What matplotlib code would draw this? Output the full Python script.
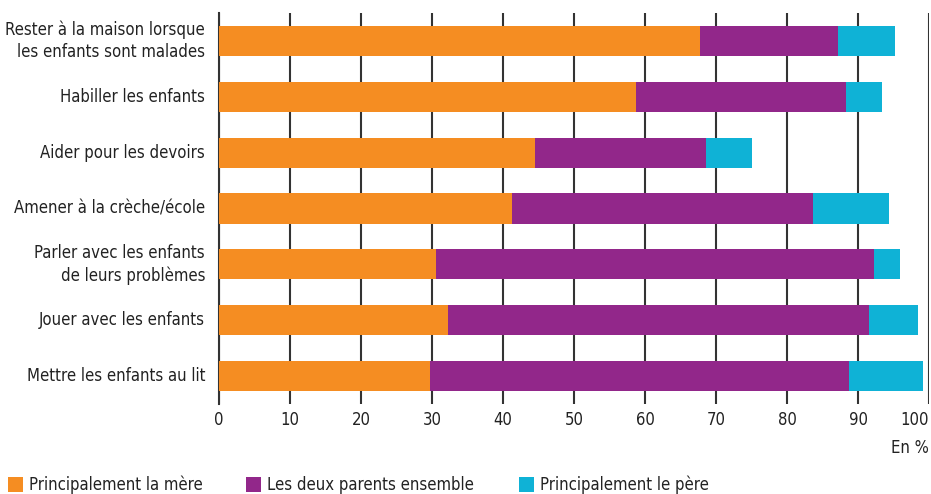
import numpy as np
import matplotlib
matplotlib.use("Agg")
import matplotlib.pyplot as plt
from matplotlib.patches import Rectangle

plt.rcParams['font.family'] = ['DejaVu Sans']
plt.rcParams['font.stretch'] = 'condensed'

# categories, top to bottom
categories = [
    "Rester à la maison lorsque\nles enfants sont malades",
    "Habiller les enfants",
    "Aider pour les devoirs",
    "Amener à la crèche/école",
    "Parler avec les enfants\nde leurs problèmes",
    "Jouer avec les enfants",
    "Mettre les enfants au lit",
]
mere = [67.8, 58.8, 44.5, 41.2, 30.6, 32.3, 29.7]
ensemble = [19.4, 29.5, 24.1, 42.4, 61.7, 59.2, 59.1]
pere = [8.0, 5.1, 6.4, 10.7, 3.6, 6.9, 10.4]
series_names = ["Principalement la mère", "Les deux parents ensemble", "Principalement le père"]
colors = ["#F58D22", "#92278A", "#0FB2D6"]
xticks = [0, 10, 20, 30, 40, 50, 60, 70, 80, 90, 100]

W, H = 931, 494
fig = plt.figure(figsize=(W / 100, H / 100), dpi=100)
ax = fig.add_axes([219/W, 1 - 404/H, 710/W, 391/H])

y = np.arange(len(categories))
left = np.zeros(len(categories))
for vals, col in zip([mere, ensemble, pere], colors):
    ax.barh(y, vals, left=left, height=0.54, color=col, zorder=3)
    left += np.array(vals)

fs = 12
ax.set_xlim(0, 100)
ax.set_ylim(len(categories) - 0.5, -0.5)
ax.set_yticks(y)
ax.set_yticklabels(categories, fontsize=fs, color="#222222", linespacing=1.3)
for lab in ax.get_yticklabels():
    lab.set_verticalalignment('center')
ax.set_xticks(xticks)
ax.set_xticklabels([str(t) for t in xticks], fontsize=fs, color="#222222")
ax.get_xticklabels()[-1].set_horizontalalignment('right')
ax.tick_params(axis='y', length=0, pad=10)
ax.tick_params(axis='x', length=0, pad=5)
ax.grid(axis='x', color="#333333", linewidth=1.5, zorder=1)
for s in ['top', 'right', 'bottom']:
    ax.spines[s].set_visible(False)
ax.spines['left'].set_color("#333333")
ax.spines['left'].set_linewidth(1.5)

fig.text(929/W, 1 - 448/H, "En %", ha='right', va='center', fontsize=fs, color="#222222")

# legend, drawn by hand to match the spacing of the original
for x0, name, col in zip([8, 246, 519], series_names, colors):
    fig.add_artist(Rectangle((x0/W, 1 - 492/H), 15/W, 15/H, transform=fig.transFigure,
                             facecolor=col, edgecolor='none'))
    fig.text((x0 + 21)/W, 1 - 485/H, name, ha='left', va='center', fontsize=fs, color="#222222")

fig.savefig("out.png", dpi=100)
